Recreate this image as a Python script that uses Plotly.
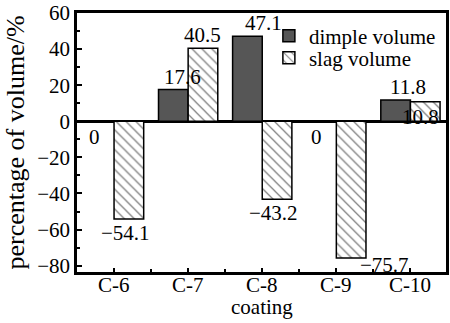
import plotly.graph_objects as go

categories = ["C-6", "C-7", "C-8", "C-9", "C-10"]
dimple = [0, 17.6, 47.1, 0, 11.8]
slag = [-54.1, 40.5, -43.2, -75.7, 10.8]
dimple_labels = ["0", "17.6", "47.1", "0", "11.8"]
slag_labels = ["\u221254.1", "40.5", "\u221243.2", "\u221275.7", "10.8"]
y_ticks = [-80, -60, -40, -20, 0, 20, 40, 60]
y_ticktext = ["\u221280", "\u221260", "\u221240", "\u221220", "0", "20", "40", "60"]

FONT = "Liberation Serif, Times New Roman, serif"
FS = 21
xi = list(range(len(categories)))

fig = go.Figure()
fig.add_trace(go.Bar(
    x=xi, y=dimple, name="dimple volume", legend="legend",
    marker=dict(color="#565656", line=dict(color="black", width=1.5)),
))
fig.add_trace(go.Bar(
    x=xi, y=slag, name="slag volume", legend="legend2",
    marker=dict(color="white", line=dict(color="black", width=1.5),
                pattern=dict(shape="\\", fgcolor="black", bgcolor="white",
                             size=7, solidity=0.18)),
))

# label placement styles: (xshift px, yshift px, anchor)
dimple_style = [(-20, -2, "top"), (-6, -1, "bottom"), (1, -1, "bottom"), (-20, -2, "top"), (-2, -1, "bottom")]
slag_style = [(11, 0, "top"), (14, -1, "bottom"), (11, 0, "top"), (48, 7, "top"), (10, -1, "top")]

for i in xi:
    dx, dy, anc = dimple_style[i]
    fig.add_annotation(x=i, y=dimple[i], text=dimple_labels[i], showarrow=False,
                       xshift=dx, yshift=dy, yanchor=anc,
                       font=dict(family=FONT, size=FS, color="black"))
    dx, dy, anc = slag_style[i]
    fig.add_annotation(x=i, y=slag[i], text=slag_labels[i], showarrow=False,
                       xshift=dx, yshift=dy, yanchor=anc,
                       font=dict(family=FONT, size=FS, color="black"))
    # category tick label, set close under the axis
    fig.add_annotation(x=i, xref="x", yref="paper", y=-0.05, text=categories[i],
                       showarrow=False, xanchor="center", yanchor="middle",
                       font=dict(family=FONT, size=FS, color="black"))

# x-axis title placed as a paper annotation just below the tick labels
fig.add_annotation(xref="paper", yref="paper", x=0.5, y=-0.135, text="coating",
                   showarrow=False, xanchor="center", yanchor="middle",
                   font=dict(family=FONT, size=FS, color="black"))

leg_common = dict(xanchor="left", yanchor="top", bgcolor="rgba(255,255,255,0)",
                  borderwidth=0, font=dict(family=FONT, size=FS), itemwidth=30)

fig.update_layout(
    width=450, height=323,
    margin=dict(l=77, r=1, t=12, b=51),
    paper_bgcolor="white", plot_bgcolor="white",
    barmode="group", bargap=0.2, bargroupgap=0,
    font=dict(family=FONT, size=FS, color="black"),
    showlegend=True,
    legend=dict(x=0.52, y=0.99, **leg_common),
    legend2=dict(x=0.52, y=0.905, **leg_common),
    xaxis=dict(
        range=[-0.5, 4.48], tickmode="array", tickvals=xi,
        showticklabels=False,
        showline=True, linecolor="black", linewidth=2.5, mirror=True,
        ticks="inside", ticklen=4, tickwidth=2, tickcolor="black",
        minor=dict(tickmode="array", tickvals=[-0.5, 0.5, 1.5, 2.5, 3.5],
                   ticks="inside", ticklen=3, tickwidth=2, tickcolor="black"),
        showgrid=False, zeroline=False,
    ),
    yaxis=dict(
        range=[-83.5, 60], tickmode="array", tickvals=y_ticks, ticktext=y_ticktext,
        showline=True, linecolor="black", linewidth=2.5, mirror=True,
        ticks="inside", ticklen=5, tickwidth=2, tickcolor="black",
        minor=dict(dtick=10, ticks="inside", ticklen=3, tickwidth=2, tickcolor="black"),
        showgrid=False, zeroline=True, zerolinecolor="black", zerolinewidth=2.5,
        title=dict(text="percentage of volume/%", standoff=6, font=dict(family=FONT, size=26)),
        tickfont=dict(family=FONT, size=FS),
    ),
)

fig.write_html("out.html", config={"displayModeBar": False},
               post_script="document.body.style.margin='0px';")
